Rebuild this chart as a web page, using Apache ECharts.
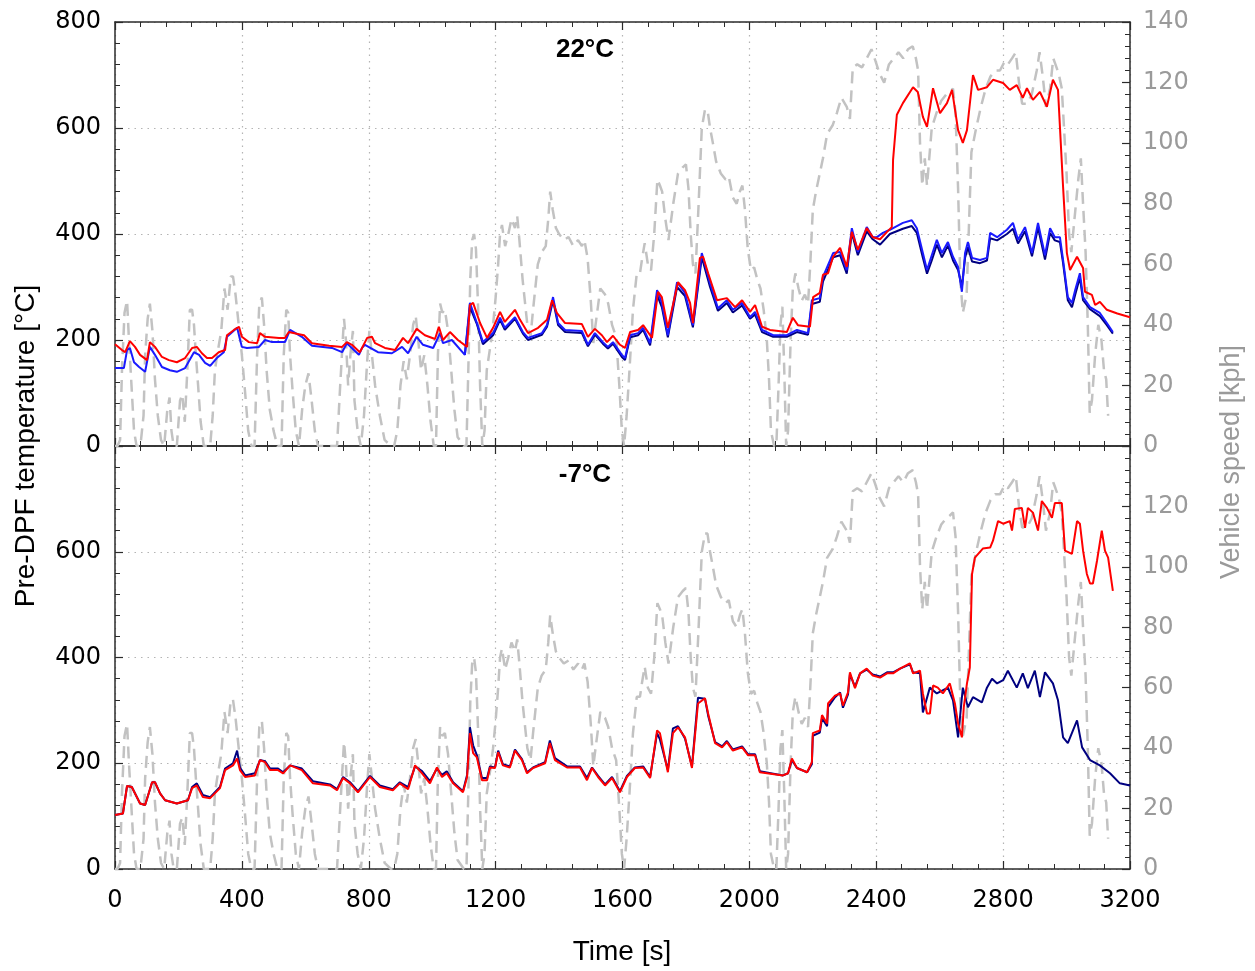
<!DOCTYPE html>
<html><head><meta charset="utf-8">
<script src="https://cdn.jsdelivr.net/npm/echarts@6/dist/echarts.min.js"></script>
<style>html,body{margin:0;padding:0;background:#fff}#c{width:1255px;height:971px}</style>
</head><body><div id="c"></div>
<script>
// ---- Data ----
const xTicks = [0,400,800,1200,1600,2000,2400,2800,3200];
const tempTicks = [0,200,400,600,800];
const speedTicks = [0,20,40,60,80,100,120,140];
const panelTitles = ['22°C','-7°C'];

// Vehicle speed [kph] vs time [s] (same trace in both panels)
const speedT = [0,8,16,22,30,38,44,52,60,68,80,90,95,103,110,118,126,135,145,155,165,172,178,185,195,205,212,220,228,236,243,249,255,262,270,280,300,308,315,322,335,345,355,365,372,380,390,400,410,420,430,440,448,455,463,470,478,488,500,512,525,532,540,546,552,560,570,580,590,600,610,620,630,640,700,710,718,722,728,735,742,750,755,765,775,785,795,802,810,820,835,850,870,880,890,900,910,920,930,940,948,956,965,975,985,995,1005,1012,1018,1025,1032,1040,1050,1060,1070,1080,1100,1108,1115,1120,1126,1132,1138,1145,1151,1158,1165,1172,1182,1192,1200,1208,1214,1220,1230,1240,1250,1261,1268,1275,1285,1295,1300,1310,1318,1325,1333,1345,1358,1366,1372,1380,1390,1400,1415,1430,1445,1460,1472,1480,1490,1500,1508,1515,1530,1545,1555,1567,1580,1590,1598,1605,1613,1622,1633,1645,1655,1662,1670,1680,1690,1700,1710,1718,1725,1735,1745,1760,1775,1790,1800,1808,1815,1822,1830,1840,1850,1860,1868,1876,1885,1895,1910,1925,1935,1948,1960,1970,1978,1986,1995,2005,2015,2025,2035,2045,2055,2062,2068,2078,2085,2092,2098,2104,2110,2116,2122,2130,2137,2145,2155,2165,2175,2185,2192,2200,2210,2222,2232,2245,2263,2276,2290,2307,2317,2326,2340,2355,2370,2385,2398,2410,2425,2440,2455,2470,2485,2500,2506,2515,2525,2532,2538,2545,2553,2560,2575,2590,2605,2620,2632,2642,2650,2658,2665,2673,2685,2700,2715,2730,2745,2760,2775,2790,2805,2815,2828,2840,2850,2860,2875,2890,2906,2915,2925,2935,2948,2958,2965,2975,2985,2992,3000,3008,3015,3025,3037,3045,3052,3060,3067,3073,3080,3090,3100,3110,3118,3125,3131];
const speedV = [0,0,2,25,44,48,35,20,5,0,0,10,30,42,47,38,22,10,2,0,12,16,5,0,0,15,17,8,25,45,45,40,30,20,8,0,0,10,25,30,38,52,45,56,56,50,40,30,18,5,0,0,30,47,49,40,25,12,5,0,0,30,45,44,30,18,5,0,12,20,24,15,5,0,0,20,35,42,35,20,30,38,15,5,0,10,28,38,30,20,10,2,0,0,5,20,28,22,30,40,43,35,25,30,20,8,0,0,30,47,44,45,38,25,12,3,0,0,30,55,68,70,65,45,20,0,5,25,32,40,49,60,70,73,66,70,75,72,76,68,55,45,40,36,45,52,60,64,66,75,84,78,72,70,68,69,66,68,66,68,62,48,34,40,52,50,47,40,36,20,5,0,10,25,45,57,57,62,67,60,58,70,88,86,84,75,68,80,90,92,93,85,70,60,57,80,105,111,111,105,100,94,90,88,89,82,80,84,86,78,65,58,59,55,52,45,35,22,5,0,0,20,40,46,25,0,5,35,52,57,52,48,50,47,60,78,84,90,95,103,106,110,115,112,108,125,126,125,128,131,127,123,120,126,128,130,128,131,131,132,128,124,100,86,95,86,105,110,114,116,117,118,110,85,55,44,50,97,105,112,118,122,124,124,127,126,128,130,120,113,113,116,124,130,122,112,118,128,126,123,118,105,90,70,64,75,88,95,80,64,40,11,15,30,40,35,25,22,10,0];

// Top panel (22°C) pre-DPF temperature [°C]
const topRedT = [0,22,32,47,63,79,101,110,126,148,170,195,221,243,258,274,290,306,327,347,353,375,391,400,422,448,457,473,517,536,548,580,596,621,675,716,731,747,772,795,810,820,851,883,908,924,951,977,1009,1021,1034,1056,1081,1110,1119,1129,1151,1173,1192,1214,1229,1261,1277,1302,1334,1362,1378,1393,1419,1472,1491,1513,1535,1551,1570,1592,1608,1624,1649,1665,1693,1712,1724,1743,1775,1797,1813,1822,1844,1854,1870,1898,1929,1955,1977,2002,2018,2040,2065,2118,2137,2153,2191,2201,2222,2232,2248,2264,2286,2307,2323,2342,2370,2389,2412,2434,2449,2453,2465,2484,2516,2531,2547,2560,2579,2601,2623,2639,2658,2673,2686,2705,2721,2749,2768,2800,2821,2843,2862,2875,2894,2916,2938,2957,2973,2989,3001,3011,3033,3052,3058,3080,3090,3105,3127,3160,3200];
const topRedV = [192,181,177,198,187,172,162,196,187,168,162,158,166,185,187,175,166,166,177,181,209,219,225,206,196,194,213,206,204,204,215,211,209,194,189,187,196,191,177,204,206,194,185,181,204,194,221,209,202,225,200,215,200,187,266,270,232,204,223,253,234,257,238,213,223,238,275,251,232,230,206,221,209,196,208,191,185,215,219,228,204,291,281,223,309,294,270,232,355,357,326,275,279,262,275,253,266,225,219,215,242,228,225,281,289,323,326,357,374,338,404,370,411,394,390,404,413,540,625,647,677,668,621,602,675,628,647,672,596,572,596,700,672,677,691,685,672,681,657,675,653,668,640,691,672,489,364,332,357,336,291,285,266,272,257,250,243];
const topBlueT = [0,28,38,47,60,76,95,110,126,148,173,195,221,249,265,284,300,321,343,353,385,400,416,454,473,495,536,552,589,621,684,716,731,769,779,788,829,873,905,924,951,971,1003,1025,1034,1062,1103,1119,1141,1160,1192,1214,1229,1261,1286,1302,1346,1362,1381,1397,1419,1472,1491,1513,1538,1554,1570,1598,1608,1624,1649,1665,1687,1709,1724,1743,1772,1797,1822,1850,1876,1901,1929,1948,1977,2002,2018,2040,2075,2118,2150,2185,2197,2222,2232,2264,2286,2307,2323,2342,2370,2389,2402,2421,2443,2484,2512,2528,2547,2560,2575,2591,2607,2626,2642,2658,2670,2680,2689,2702,2727,2749,2759,2781,2812,2831,2847,2869,2891,2910,2932,2948,2963,2979,2989,3004,3017,3027,3042,3052,3074,3105,3127,3146];
const topBlueV = [147,147,181,185,158,149,140,187,172,149,143,140,147,177,172,157,151,166,177,206,223,187,185,187,200,196,196,219,206,189,185,177,194,172,185,191,177,175,187,175,206,191,185,213,194,200,172,270,232,196,213,242,223,243,215,204,213,228,281,232,219,217,191,213,196,187,196,172,166,209,213,223,194,294,270,209,309,289,228,364,307,260,275,257,270,243,253,219,209,209,219,213,275,279,319,364,366,332,411,366,413,394,394,402,408,421,426,411,364,332,360,389,364,385,357,338,291,364,385,355,351,355,402,394,408,421,389,413,364,421,360,411,394,394,351,281,270,294,326,281,262,251,232,215];
const topNavyT = [1103,1119,1141,1160,1192,1214,1229,1261,1286,1302,1346,1362,1381,1397,1419,1472,1491,1513,1538,1554,1570,1598,1608,1624,1649,1665,1687,1709,1724,1743,1772,1797,1822,1850,1876,1901,1929,1948,1977,2002,2018,2040,2075,2118,2150,2185,2197,2222,2232,2264,2286,2307,2323,2342,2370,2389,2412,2443,2484,2512,2528,2547,2560,2575,2591,2607,2626,2642,2658,2670,2680,2689,2702,2727,2749,2759,2781,2812,2831,2847,2869,2891,2910,2932,2948,2963,2979,2989,3004,3017,3027,3042,3052,3074,3105,3127,3146];
const topNavyV = [172,262,230,192,209,238,219,240,212,200,210,225,275,228,215,213,188,210,193,184,193,168,162,205,209,219,190,285,262,205,300,283,224,356,300,255,270,252,265,240,248,215,206,206,215,210,268,272,310,356,360,325,402,360,405,390,380,400,410,415,402,355,325,350,380,356,378,350,332,300,355,375,348,345,350,392,388,400,410,382,405,358,412,352,402,388,385,345,275,262,285,318,275,258,245,228,212];

// Bottom panel (-7°C) pre-DPF temperature [°C]
const botRedT = [0,25,38,53,79,95,117,126,142,158,195,230,243,258,277,300,331,347,372,385,394,410,441,457,473,489,514,530,552,589,624,678,700,719,741,766,804,835,876,898,924,946,968,993,1015,1031,1046,1066,1097,1110,1119,1129,1141,1157,1173,1182,1198,1208,1223,1245,1261,1283,1299,1318,1356,1371,1387,1425,1466,1488,1504,1523,1545,1567,1592,1614,1639,1665,1687,1709,1718,1743,1759,1775,1797,1819,1838,1860,1870,1892,1914,1929,1948,1977,1996,2018,2033,2106,2122,2134,2150,2182,2197,2200,2222,2229,2245,2248,2270,2286,2295,2311,2317,2333,2349,2370,2389,2412,2434,2453,2475,2506,2516,2538,2547,2560,2569,2579,2594,2610,2632,2648,2658,2670,2676,2686,2695,2702,2711,2736,2759,2768,2784,2800,2821,2828,2837,2859,2869,2878,2894,2910,2922,2938,2954,2963,2985,2995,3017,3033,3042,3052,3064,3074,3083,3096,3111,3121,3131,3146];
const botRedV = [102,105,157,155,124,121,164,164,143,130,124,130,153,158,136,134,153,187,196,209,187,174,177,206,202,187,187,181,196,187,162,158,149,172,162,145,174,155,149,162,151,196,181,162,192,174,181,162,145,174,257,219,211,168,168,192,191,221,196,192,224,206,181,191,200,238,206,192,192,168,191,174,158,172,145,174,191,192,172,262,257,183,257,268,249,191,313,323,294,238,230,240,224,230,215,215,183,177,181,209,191,183,202,257,262,291,275,313,328,332,309,334,372,342,370,379,366,362,370,370,379,389,370,375,332,294,294,347,343,332,351,313,275,249,306,351,381,558,589,606,608,621,658,653,658,640,681,683,645,683,674,640,696,683,664,692,692,602,596,658,653,602,558,540,540,583,640,602,589,526];
const botNavyT = [0,25,38,53,79,95,117,126,142,158,195,230,243,258,277,300,331,347,372,385,394,410,441,457,473,489,514,530,552,589,624,678,700,719,741,766,804,835,876,898,924,946,968,993,1015,1031,1046,1066,1097,1110,1119,1129,1141,1157,1173,1182,1198,1208,1223,1245,1261,1283,1299,1318,1356,1371,1387,1425,1466,1488,1504,1523,1545,1567,1592,1614,1639,1665,1687,1709,1718,1743,1759,1775,1797,1819,1838,1860,1870,1892,1914,1929,1948,1977,1996,2018,2033,2106,2122,2134,2150,2182,2197,2200,2222,2229,2245,2248,2270,2286,2295,2311,2317,2333,2349,2370,2389,2412,2434,2453,2475,2506,2516,2538,2547,2569,2591,2626,2642,2658,2673,2689,2705,2733,2749,2765,2781,2800,2815,2843,2862,2878,2900,2916,2932,2957,2973,2989,3004,3033,3049,3074,3105,3137,3168,3200];
const botNavyV = [102,105,157,155,124,121,164,164,143,130,124,130,155,162,140,136,155,190,200,224,192,177,181,206,204,190,190,183,196,190,166,160,151,174,164,147,176,158,151,164,155,194,185,166,190,178,185,164,147,178,268,234,215,172,172,194,192,224,198,194,226,208,183,192,202,243,210,194,194,172,192,176,160,174,147,176,192,194,174,257,245,187,266,270,247,194,324,322,290,240,232,242,226,232,217,217,185,177,181,206,191,183,198,252,258,285,270,306,325,334,305,330,368,345,370,377,368,364,372,372,379,387,372,370,296,343,332,343,319,249,343,306,325,315,343,360,351,357,375,343,370,342,375,325,372,351,319,249,238,281,230,206,196,181,162,158];

// ---- Chart ----
const pairs = (t, v) => t.map((x, i) => [x, v[i]]);
const FONT = 'DejaVu Sans';
const FRAME = '#2b2b2b';
const GRIDC = '#b4b4b4';
const GREY = '#c2c2c2';
const RED = '#ff0000', BLUE = '#1a1aff', NAVY = '#000080';

function xAxisCfg(grid, pos, showLabels) {
  return {
    type: 'value', gridIndex: grid, position: pos,
    min: xTicks[0], max: xTicks[xTicks.length - 1], interval: xTicks[1] - xTicks[0],
    axisLine: { show: true, onZero: false, lineStyle: { color: FRAME, width: 1.5 } },
    axisTick: { show: true, inside: true, length: 8, lineStyle: { color: FRAME, width: 1.2 } },
    minorTick: { show: true, splitNumber: 5, length: 5, lineStyle: { color: FRAME, width: 1 } },
    axisLabel: { show: showLabels, color: '#000', fontFamily: FONT, fontSize: 24, margin: 20,
      formatter: v => String(v) },
    splitLine: { show: pos === 'bottom', lineStyle: { color: GRIDC, width: 1.2, type: [1.5, 5] } },
    minorSplitLine: { show: false }
  };
}
function yTempCfg(grid, hideTop) {
  return {
    type: 'value', gridIndex: grid, position: 'left',
    min: tempTicks[0], max: tempTicks[tempTicks.length - 1], interval: tempTicks[1] - tempTicks[0],
    axisLine: { show: true, onZero: false, lineStyle: { color: FRAME, width: 1.5 } },
    axisTick: { show: true, inside: true, length: 8, lineStyle: { color: FRAME, width: 1.2 } },
    minorTick: { show: true, splitNumber: 5, length: 5, lineStyle: { color: FRAME, width: 1 } },
    axisLabel: { color: '#000', fontFamily: FONT, fontSize: 24, margin: 14,
      formatter: v => (hideTop && v === tempTicks[tempTicks.length - 1]) ? '' : String(v) },
    splitLine: { show: true, lineStyle: { color: GRIDC, width: 1.2, type: [1.5, 5] } }
  };
}
function ySpeedCfg(grid, hideTop) {
  return {
    type: 'value', gridIndex: grid, position: 'right',
    min: speedTicks[0], max: speedTicks[speedTicks.length - 1], interval: speedTicks[1] - speedTicks[0],
    axisLine: { show: true, onZero: false, lineStyle: { color: FRAME, width: 1.5 } },
    axisTick: { show: true, inside: true, length: 8, lineStyle: { color: FRAME, width: 1.2 } },
    minorTick: { show: true, splitNumber: 5, length: 5, lineStyle: { color: FRAME, width: 1 } },
    axisLabel: { color: '#9a9a9a', fontFamily: FONT, fontSize: 24, margin: 13,
      formatter: v => (hideTop && v === speedTicks[speedTicks.length - 1]) ? '' : String(v) },
    splitLine: { show: false }
  };
}
function lineSeries(name, xi, yi, data, color, width, dashed, z) {
  return {
    name, type: 'line', xAxisIndex: xi, yAxisIndex: yi, data,
    showSymbol: false, symbol: 'none', smooth: false, z,
    lineStyle: { color, width, type: dashed ? [12, 7] : 'solid' },
    emphasis: { disabled: true }
  };
}

const chart = echarts.init(document.getElementById('c'), null, { renderer: 'canvas' });
chart.setOption({
  animation: false,
  backgroundColor: '#fff',
  grid: [
    { left: 115, top: 22, width: 1015, height: 424, containLabel: false },
    { left: 115, top: 446, width: 1015, height: 423, containLabel: false }
  ],
  xAxis: [ xAxisCfg(0, 'bottom', false), xAxisCfg(0, 'top', false), xAxisCfg(1, 'bottom', true), xAxisCfg(1, 'top', false) ],
  yAxis: [ yTempCfg(0, false), ySpeedCfg(0, false), yTempCfg(1, true), ySpeedCfg(1, true) ],
  series: [
    lineSeries('Speed 22', 0, 1, pairs(speedT, speedV), GREY, 2.5, true, 1),
    lineSeries('Navy 22', 0, 0, pairs(topNavyT, topNavyV), NAVY, 2, false, 2),
    lineSeries('Blue 22', 0, 0, pairs(topBlueT, topBlueV), BLUE, 2, false, 3),
    lineSeries('Red 22', 0, 0, pairs(topRedT, topRedV), RED, 2, false, 4),
    lineSeries('Speed -7', 2, 3, pairs(speedT, speedV), GREY, 2.5, true, 1),
    lineSeries('Navy -7', 2, 2, pairs(botNavyT, botNavyV), NAVY, 2, false, 2),
    lineSeries('Red -7', 2, 2, pairs(botRedT, botRedV), RED, 2, false, 4)
  ],
  graphic: [
    { type: 'text', x: 585, y: 50, z: 10, style: { text: panelTitles[0], font: 'bold 26px "Liberation Sans", Arial, sans-serif', fill: '#000', textAlign: 'center', textVerticalAlign: 'middle' } },
    { type: 'text', x: 585, y: 475, z: 10, style: { text: panelTitles[1], font: 'bold 26px "Liberation Sans", Arial, sans-serif', fill: '#000', textAlign: 'center', textVerticalAlign: 'middle' } },
    { type: 'text', x: 26, y: 446, rotation: Math.PI / 2, z: 10, style: { text: 'Pre-DPF temperature [°C]', font: '28px "Liberation Sans", Arial, sans-serif', fill: '#000', textAlign: 'center', textVerticalAlign: 'middle' } },
    { type: 'text', x: 1232, y: 462, rotation: Math.PI / 2, z: 10, style: { text: 'Vehicle speed [kph]', font: '27px "Liberation Sans", Arial, sans-serif', fill: '#9a9a9a', textAlign: 'center', textVerticalAlign: 'middle' } },
    { type: 'text', x: 622, y: 952, z: 10, style: { text: 'Time [s]', font: '28px "Liberation Sans", Arial, sans-serif', fill: '#000', textAlign: 'center', textVerticalAlign: 'middle' } }
  ]
});
</script>
</body></html>
